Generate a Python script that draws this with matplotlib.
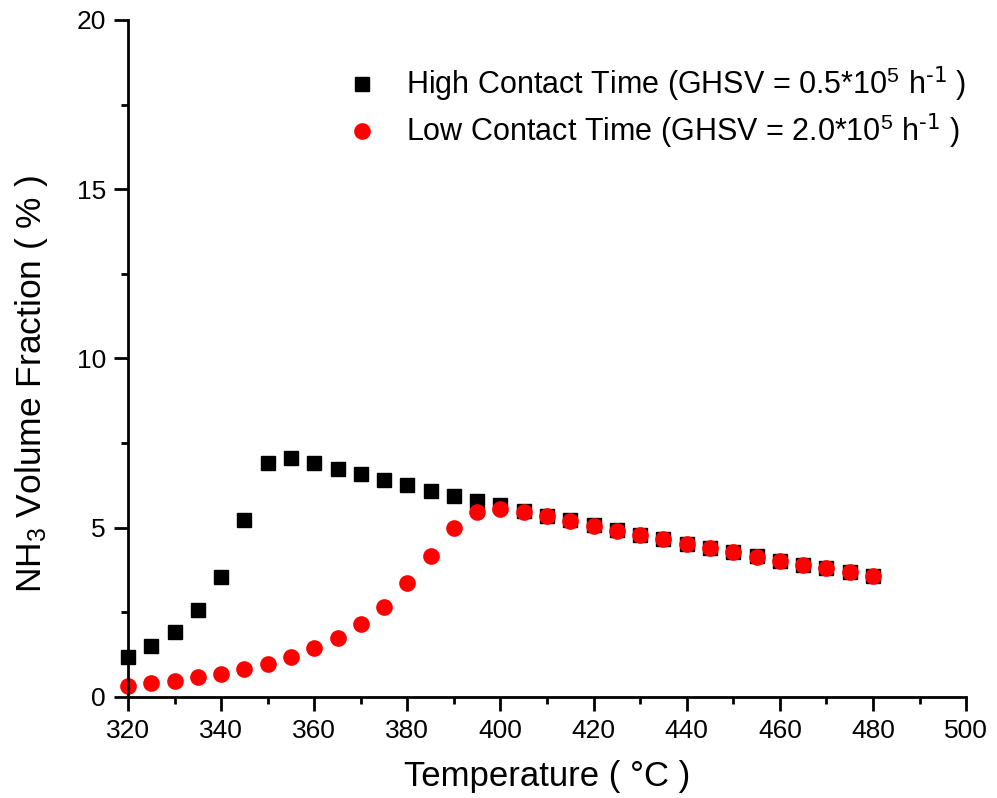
import matplotlib
matplotlib.use('Agg')
import matplotlib.pyplot as plt
from matplotlib.ticker import MultipleLocator

plt.rcParams['font.family'] = ['Liberation Sans', 'DejaVu Sans']
plt.rcParams['mathtext.default'] = 'regular'

# temperature (°C)
temperature = list(range(320, 485, 5))

# NH3 volume fraction (%), high contact time
high_contact = [1.19, 1.50, 1.93, 2.57, 3.55, 5.23, 6.90, 7.05, 6.90, 6.74,
                6.58, 6.41, 6.25, 6.09, 5.94, 5.79, 5.68, 5.50, 5.36, 5.22,
                5.07, 4.92, 4.79, 4.66, 4.53, 4.41, 4.28, 4.15, 4.03, 3.91,
                3.80, 3.68, 3.57]

# NH3 volume fraction (%), low contact time
low_contact = [0.33, 0.40, 0.48, 0.58, 0.68, 0.82, 0.97, 1.19, 1.44, 1.75,
               2.16, 2.67, 3.36, 4.17, 4.98, 5.47, 5.56, 5.47, 5.35, 5.21,
               5.06, 4.91, 4.79, 4.66, 4.53, 4.40, 4.28, 4.14, 4.03, 3.91,
               3.80, 3.68, 3.57]

labels = ['High Contact Time (GHSV = 0.5*10$^5$ h$^{\\text{-1}}$ )',
          'Low Contact Time (GHSV = 2.0*10$^5$ h$^{\\text{-1}}$ )']

fig = plt.figure(figsize=(9.97, 7.98), dpi=100)
ax = fig.add_axes([0.1284, 0.1266, 0.8406, 0.8484])

ax.plot(temperature, high_contact, 's', color='black', markersize=10.5,
        linestyle='none', label=labels[0], clip_on=False)
ax.plot(temperature, low_contact, 'o', color='red', markersize=12,
        markeredgewidth=0, linestyle='none', label=labels[1], clip_on=False)

ax.set_xlim(320, 500)
ax.set_ylim(0, 20)
ax.xaxis.set_major_locator(MultipleLocator(20))
ax.xaxis.set_minor_locator(MultipleLocator(10))
ax.yaxis.set_major_locator(MultipleLocator(5))
ax.yaxis.set_minor_locator(MultipleLocator(2.5))

for side in ['top', 'right']:
    ax.spines[side].set_visible(False)
for side in ['left', 'bottom']:
    ax.spines[side].set_linewidth(2)

ax.tick_params(which='major', direction='out', length=10, width=2,
               labelsize=19, pad=6)
ax.tick_params(which='minor', direction='out', length=5, width=2)

ax.set_xlabel('Temperature ( °C )', fontsize=25, labelpad=12)
ax.set_ylabel('NH$_3$ Volume Fraction ( % )', fontsize=25.5)
ax.yaxis.set_label_coords(-0.093, 0.462)

ax.legend(loc='upper right', bbox_to_anchor=(1.033, 0.975), frameon=False,
          fontsize=22, handletextpad=0.45, labelspacing=0.25,
          markerscale=1.0)

fig.savefig('out.png', dpi=100)
plt.close(fig)
